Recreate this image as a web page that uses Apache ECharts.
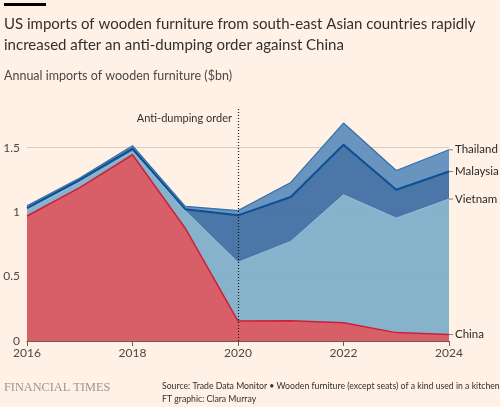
<!DOCTYPE html>
<html>
<head>
<meta charset="utf-8">
<script src="https://cdn.jsdelivr.net/npm/echarts@6/dist/echarts.min.js"></script>
<style>
  html, body { margin: 0; padding: 0; background: #fff1e5; }
  #chart { width: 500px; height: 407px; }
</style>
</head>
<body>
<div id="chart"></div>
<script>
// years on the x axis
const years = ['2016', '2017', '2018', '2019', '2020', '2021', '2022', '2023', '2024']
// annual imports, $bn (stacked from the bottom)
const china = [0.97, 1.19, 1.445, 0.875, 0.155, 0.158, 0.142, 0.065, 0.05]
const vietnam = [0.048, 0.043, 0.026, 0.135, 0.455, 0.614, 0.992, 0.888, 1.051]
const malaysia = [0.013, 0.018, 0.021, 0.013, 0.365, 0.345, 0.389, 0.22, 0.214]
const thailand = [0.018, 0.013, 0.023, 0.022, 0.037, 0.113, 0.168, 0.15, 0.169]
const yTicks = [0, 0.5, 1, 1.5]

const font = 'Lato'
const textCol = '#33302e'

const chart = echarts.init(document.getElementById('chart'), null, { renderer: 'canvas' })

function areaSeries (name, data, fill, line, lineW) {
  return {
    name: name,
    type: 'line',
    stack: 'total',
    data: data,
    symbol: 'none',
    lineStyle: { color: line, width: lineW },
    areaStyle: { color: fill, opacity: 0.93 },
    itemStyle: { color: fill },
    endLabel: {
      show: true,
      distance: 0,
      formatter: '{d|}{n|' + name + '}',
      rich: {
        d: { width: 4, height: 1, backgroundColor: '#8a8480' },
        n: { fontFamily: font, fontSize: 11.5, color: '#2b2826', padding: [0, 0, 0, 2] }
      }
    },
    z: 2
  }
}

const option = {
  backgroundColor: '#fff1e5',
  animation: false,
  grid: { left: 27, right: 51, top: 109, bottom: 66 },
  xAxis: {
    type: 'category',
    data: years,
    boundaryGap: false,
    axisLine: { lineStyle: { color: '#66605c', width: 1 } },
    axisTick: { interval: 1, length: 5, lineStyle: { color: '#66605c' } },
    axisLabel: { interval: 1, fontFamily: font, fontSize: 12, color: '#4d4845', margin: 6 },
    splitLine: { show: false }
  },
  yAxis: {
    type: 'value',
    min: 0,
    max: 1.8,
    interval: 0.5,
    axisLine: { show: false },
    axisTick: { show: false },
    axisLabel: {
      fontFamily: font,
      fontSize: 12,
      color: '#4d4845',
      margin: 7,
      showMaxLabel: false,
      formatter: v => (yTicks.indexOf(v) >= 0 ? String(v) : '')
    },
    splitLine: { showMaxLine: false, lineStyle: { color: '#d9cdc2', width: 1 } }
  },
  series: [
    Object.assign(areaSeries('China', china, '#d5545f', '#cc1f3a', 1.5), {
      markLine: {
        silent: true,
        symbol: 'none',
        label: { show: false },
        lineStyle: { color: '#1a1817', type: [1, 2], width: 1.2 },
        data: [{ xAxis: '2020' }],
        z: 5
      }
    }),
    areaSeries('Vietnam', vietnam, '#7eadc9', '#93bfd9', 1),
    areaSeries('Malaysia', malaysia, '#3c6ea3', '#0d4f94', 2),
    areaSeries('Thailand', thailand, '#5e8dbc', '#3270ab', 1.2)
  ],
  graphic: [
    { type: 'rect', left: 4, top: 3, shape: { width: 42, height: 3 }, style: { fill: '#000' } },
    {
      type: 'text', left: 4, top: 14,
      style: {
        text: 'US imports of wooden furniture from south-east Asian countries rapidly\nincreased after an anti-dumping order against China',
        font: '15px ' + font, fill: textCol, lineHeight: 21
      }
    },
    {
      type: 'text', left: 4, top: 69,
      style: { text: 'Annual imports of wooden furniture ($bn)', font: '12.5px ' + font, fill: '#4d4845' }
    },
    {
      type: 'text', right: 268, top: 113,
      style: { text: 'Anti-dumping order', font: '11px ' + font, fill: textCol, align: 'right' }
    },
    {
      type: 'text', left: 4, top: 382,
      style: { text: 'FINANCIAL TIMES', font: '12.3px "Liberation Serif"', fill: '#9a9590' }
    },
    {
      type: 'text', left: 162, top: 380,
      style: {
        text: 'Source: Trade Data Monitor \u2022 Wooden furniture (except seats) of a kind used in a kitchen\nFT graphic: Clara Murray',
        font: '8.7px ' + font, fill: textCol, lineHeight: 13
      }
    }
  ]
}

chart.setOption(option)
</script>
</body>
</html>
